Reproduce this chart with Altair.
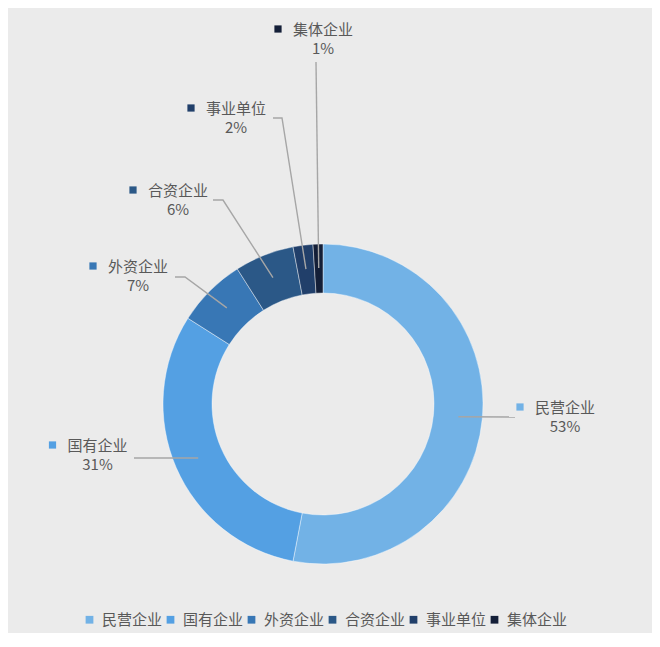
import math
import altair as alt
import pandas as pd

# ---- data ----
names = ["民营企业", "国有企业", "外资企业", "合资企业", "事业单位", "集体企业"]
shares = [53, 31, 7, 6, 2, 1]
pct_labels = ["53%", "31%", "7%", "6%", "2%", "1%"]
colors = ["#72b2e6", "#54a0e3", "#3877b5", "#2b5887", "#213f6a", "#141f38"]

# ---- annotation layout (px, relative to donut centre, y downward) ----
label_x = [242, -225.5, -185, -145, -87, 0]
label_y = [4, 42, -137, -213, -295, -374]
leader_tail = [
    [(192, 13)],
    [(-189, 54)],
    [(-138, -127), (-148, -127)],
    [(-100, -204), (-110, -204)],
    [(-41, -286), (-50, -286)],
    [(-7, -342)],
]

R_OUT, R_IN, R_MID = 160, 111, 136
FONT = "Noto Sans CJK SC"
TXT = "#595959"
BG = "#ebebeb"

df = pd.DataFrame({"name": names, "share": shares, "idx": list(range(len(names)))})

# label table
lab = pd.DataFrame({
    "name": names,
    "pct": pct_labels,
    "color": colors,
    "tx": label_x,
    "ty": label_y,
    "sx": [x - 45 for x in label_x],
    "sy": [y - 1 for y in label_y],
    "py": [y + 19 for y in label_y],
})

# leader lines: start at the middle of each slice, on the ring's mid radius
total = sum(shares)
rows = []
cum = 0
for i, (n, s) in enumerate(zip(names, shares)):
    mid = (cum + s / 2) / total * 2 * math.pi
    cum += s
    pts = [(R_MID * math.sin(mid), -R_MID * math.cos(mid))] + leader_tail[i]
    for k, (px, py) in enumerate(pts):
        rows.append({"name": n, "seq": k, "lx": px, "ly": py})
lead = pd.DataFrame(rows)

xs = alt.Scale(domain=[-315, 329], nice=False, zero=False)
ys = alt.Scale(domain=[-396, 229], nice=False, zero=False, reverse=True)

arc = alt.Chart(df).mark_arc(
    outerRadius=R_OUT, innerRadius=R_IN, stroke="#ffffff", strokeWidth=0.6, strokeOpacity=0.7
).encode(
    theta=alt.Theta("share:Q", stack=True),
    order=alt.Order("idx:Q"),
    color=alt.Color(
        "name:N",
        sort=names,
        scale=alt.Scale(domain=names, range=colors),
        legend=alt.Legend(
            orient="none", legendX=74, legendY=604, direction="horizontal",
            title=None, symbolType="square", symbolSize=60, symbolStrokeWidth=0,
            labelFont=FONT, labelFontSize=15, labelColor=TXT, labelOffset=5,
            columnPadding=0, padding=0,
        ),
    ),
    x=alt.X(datum=0, scale=xs, axis=None),
    y=alt.Y(datum=0, scale=ys, axis=None),
)

lines = alt.Chart(lead).mark_line(color="#a6a6a6", strokeWidth=1.4).encode(
    x=alt.X("lx:Q", scale=xs, axis=None),
    y=alt.Y("ly:Q", scale=ys, axis=None),
    detail="name:N",
    order="seq:Q",
)

squares = alt.Chart(lab).mark_square(size=52, opacity=1).encode(
    x=alt.X("sx:Q", scale=xs, axis=None),
    y=alt.Y("sy:Q", scale=ys, axis=None),
    color=alt.Color("color:N", scale=None),
)

names_txt = alt.Chart(lab).mark_text(
    font=FONT, fontSize=15, color=TXT, align="center", baseline="middle"
).encode(
    x=alt.X("tx:Q", scale=xs, axis=None),
    y=alt.Y("ty:Q", scale=ys, axis=None),
    text="name:N",
)

pct_txt = alt.Chart(lab).mark_text(
    font=FONT, fontSize=15, color=TXT, align="center", baseline="middle"
).encode(
    x=alt.X("tx:Q", scale=xs, axis=None),
    y=alt.Y("py:Q", scale=ys, axis=None),
    text="pct:N",
)

chart = (
    alt.layer(arc, lines, squares, names_txt, pct_txt)
    .properties(width=644, height=625, background=BG, padding=0,
                autosize=alt.AutoSizeParams(type="none"))
    .configure_view(stroke=None)
)

chart.save("out.html", embed_options={"renderer": "svg", "actions": False})
